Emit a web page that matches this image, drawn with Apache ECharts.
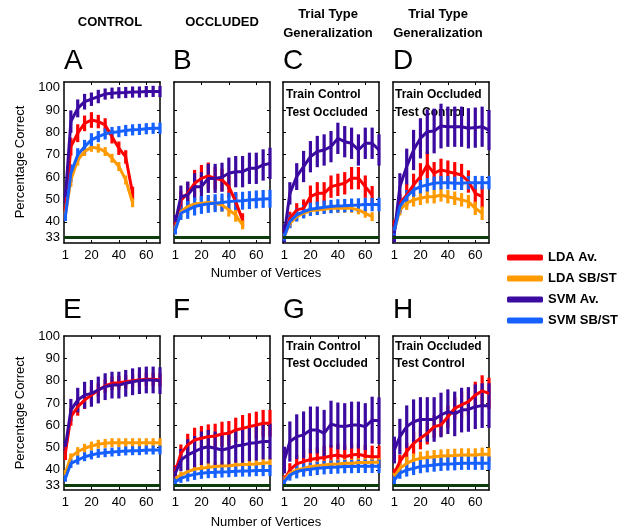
<!DOCTYPE html>
<html>
<head>
<meta charset="utf-8">
<script src="https://cdn.jsdelivr.net/npm/echarts@6/dist/echarts.min.js"></script>
<style>
html, body { margin: 0; padding: 0; background: #fff; }
#box { width: 627px; height: 529px; }
</style>
</head>
<body>
<div id="box"></div>
<script>
var vertices = [1, 5, 10, 15, 20, 25, 30, 35, 40, 45, 50, 55, 60, 65, 70];
var yTicks = [33, 40, 50, 60, 70, 80, 90, 100];
var xTicks = [1, 20, 40, 60];
var seriesNames = ["LDA Av.", "LDA SB/ST", "SVM Av.", "SVM SB/ST"];
var seriesColors = ["#ff0000", "#ff9a00", "#3b0aa0", "#1560ff"];
var chance = 33;

// A - control
var ldaAvA = [44, 73.6, 79.6, 84, 85.5, 84.8, 83.3, 78, 72.9, 69, 52.7];
var ldaSbA = [43, 58.7, 67.6, 71.4, 73.3, 72.9, 71.4, 68.4, 64.7, 58.7, 48.5];
var svmAvA = [51, 84.8, 90.7, 93.7, 94.8, 96, 97.1, 97.5, 97.7, 97.8, 98, 98, 98.2, 98.3, 98.2];
var svmSbA = [42.3, 61.7, 69.9, 73.6, 76.6, 78.1, 79.3, 79.9, 80.3, 80.8, 81.1, 81.3, 81.6, 81.8, 81.8];
var ldaAvErrA = [3, 4, 4, 3.5, 3.5, 3, 3, 3, 3, 3, 3];
var ldaSbErrA = [2, 3, 2.5, 2, 2, 2, 2, 2, 2, 2, 2];
var svmAvErrA = [3, 5, 4, 3.5, 3, 3, 2.5, 2.5, 2.5, 2.5, 2.5, 2.5, 2.5, 2.5, 2.5];
var svmSbErrA = [2, 4, 3, 3, 3, 2.5, 2.5, 2.5, 2.5, 2.5, 2.5, 2.5, 2.5, 2.5, 2.5];

// B - occluded
var ldaAvB = [38.6, 49.7, 52.7, 57.2, 59.4, 60.5, 59.4, 58.7, 55.7, 49, 40.8];
var ldaSbB = [37, 44.5, 46.8, 48, 48.3, 48.6, 48.3, 47.5, 45.3, 43, 38.6];
var svmAvB = [40, 51.2, 52, 55.7, 55.7, 59.4, 59.4, 59.9, 61.7, 62.4, 62.4, 63.9, 63.9, 65.4, 66.1];
var svmSbB = [36.3, 43.8, 45.3, 46.8, 47.5, 48, 48.3, 48.6, 49, 49.3, 49.4, 49.7, 50, 50.2, 50.3];
var ldaAvErrB = [3, 4, 5, 6, 6, 6, 5, 5, 5, 4, 3];
var ldaSbErrB = [2, 2.5, 3, 3, 3, 3, 3, 3, 3, 3, 2];
var svmAvErrB = [3, 5, 6, 6, 6.5, 6.5, 6.5, 6.5, 7, 7, 7, 7, 7, 7, 7];
var svmSbErrB = [2, 3, 4, 4, 4, 4, 4, 4, 4, 4, 4, 4, 4, 4, 4];

// C - train control, test occluded
var ldaAvC = [34.8, 41.5, 45.3, 46, 51.2, 52.7, 52.7, 55.7, 56.5, 57.2, 59.5, 59.5, 55.7, 52];
var ldaSbC = [33.5, 39.3, 42.3, 43.8, 45, 45.3, 45.6, 46, 46, 46, 46, 45.3, 43.8, 42.3];
var svmAvC = [34.8, 52.7, 60.2, 64.7, 69.1, 71.4, 72.1, 73.6, 77.3, 75.8, 75.1, 72.1, 75.1, 75.1, 72.1];
var svmSbC = [33.5, 40.1, 43.1, 44.5, 45.6, 46, 46.5, 46.8, 47.1, 47.2, 47.4, 47.5, 47.7, 47.7, 47.7];
var ldaAvErrC = [2, 3, 3, 4, 5, 5, 5, 5, 5, 5, 5, 5, 5, 4];
var ldaSbErrC = [1.5, 2, 2, 2, 2, 2, 2, 2, 2, 2, 2, 2, 2, 2];
var svmAvErrC = [4, 5, 6, 7, 7, 7, 7, 7, 7, 7, 7, 7, 7, 7, 7];
var svmSbErrC = [2, 3, 3, 3, 3, 3, 3, 3, 3, 3, 3, 3, 3, 3, 3];

// D - train occluded, test control
var ldaAvD = [37.8, 48.3, 52, 56.5, 60.2, 65.4, 61.7, 63.2, 62.4, 61.7, 60.9, 58, 52.7, 51.2];
var ldaSbD = [36, 45.3, 48.3, 49.8, 50.5, 51.2, 51.2, 52, 51.2, 50.5, 49.8, 49, 46, 43.8];
var svmAvD = [34.8, 55.7, 64.7, 72.1, 77.3, 80.3, 80.6, 82.8, 82.5, 82.5, 82.5, 81.8, 82.1, 82.5, 81];
var svmSbD = [36, 46.8, 51.2, 54.2, 55.7, 56.5, 57.2, 57.5, 57.5, 57.2, 57.2, 57.5, 57.5, 57.5, 57.5];
var ldaAvErrD = [3, 4, 5, 5, 6, 6, 5, 5, 5, 5, 5, 5, 5, 5];
var ldaSbErrD = [2, 2.5, 3, 3, 3, 3, 3, 3, 3, 3, 3, 3, 3, 3];
var svmAvErrD = [4, 6, 8, 9, 9, 10, 10, 10, 9, 9, 9, 9, 9, 9, 9];
var svmSbErrD = [2, 3, 3, 3, 3, 3, 3, 3, 3, 3, 3, 3, 3, 3, 3];

// E - control
var ldaAvE = [47.4, 63.8, 68.3, 71.3, 73.5, 75.8, 77.6, 78.8, 79.1, 79.5, 80, 80.3, 80.6, 80.6, 80.3];
var ldaSbE = [38.5, 45.9, 48.2, 49.7, 50.7, 51.5, 51.9, 52.2, 52.2, 52.2, 52.2, 52.2, 52.2, 52.2, 52.2];
var svmAvE = [50.4, 66.8, 71.3, 73.5, 74.3, 75.8, 77.3, 78, 78, 78.8, 79.5, 80, 80.3, 80.3, 80];
var svmSbE = [36.2, 42.9, 44.4, 45.9, 46.7, 47.4, 47.7, 48, 48.2, 48.5, 48.6, 48.6, 48.9, 48.9, 48.9];
var ldaAvErrE = [3, 4, 4, 4, 3.5, 3, 3, 3, 3, 3, 3, 3, 3, 3, 3];
var ldaSbErrE = [1.5, 1.5, 2, 2, 2, 2, 2, 2, 2, 2, 2, 2, 2, 2, 2];
var svmAvErrE = [3, 5, 5.5, 6, 6, 6, 6, 6, 6, 6, 6, 6, 6, 6, 6];
var svmSbErrE = [1.5, 2, 2, 2, 2, 2, 2, 2, 2, 2, 2, 2, 2, 2, 2];

// F - occluded
var ldaAvF = [39.2, 47.4, 51.2, 53.4, 54.2, 54.9, 55.2, 56.1, 56.4, 57.9, 58.6, 59.4, 60.1, 60.9, 60.9];
var ldaSbF = [36.2, 37.7, 39.2, 40.3, 40.7, 41.2, 41.5, 41.8, 41.9, 42.2, 42.4, 42.5, 42.7, 43, 43.3];
var svmAvF = [38.5, 44.4, 46.7, 48.2, 49.7, 50.4, 49.7, 48.9, 49.7, 50.7, 51.2, 51.9, 52.2, 52.7, 52.7];
var svmSbF = [34.7, 36.2, 37.3, 38, 38.5, 38.8, 38.9, 39.1, 39.2, 39.4, 39.5, 39.5, 39.7, 39.7, 39.7];
var ldaAvErrF = [3, 4, 5, 5.5, 5.5, 5.5, 5.5, 5.5, 5.5, 5.5, 6, 6, 6, 6, 6];
var ldaSbErrF = [1, 1.5, 2, 2, 2, 2, 2, 2, 2, 2, 2, 2, 2, 2, 2];
var svmAvErrF = [3, 5, 7, 7, 7.5, 7.5, 7.5, 7.5, 7.5, 7.5, 8, 8, 8, 8, 8];
var svmSbErrF = [1.5, 2, 2.5, 2.5, 2.5, 2.5, 2.5, 2.5, 2.5, 2.5, 2.5, 2.5, 2.5, 2.5, 2.5];

// G - train control, test occluded
var ldaAvG = [35.5, 40, 42.7, 43.7, 44.7, 45.2, 45.6, 46.2, 46.7, 45.9, 46.7, 47, 46.2, 45.9, 45.9];
var ldaSbG = [35.5, 38.5, 40, 40.7, 41.5, 41.9, 42.2, 42.5, 42.7, 43, 43, 43.3, 43.3, 43.4, 43.4];
var svmAvG = [44.4, 52.7, 54.9, 55.7, 57.9, 57.9, 56.4, 60.5, 59.7, 59.4, 60.1, 60.1, 59.4, 62.3, 62];
var svmSbG = [34.7, 37.7, 39.2, 40, 40.3, 40.7, 41, 41.2, 41.3, 41.5, 41.5, 41.6, 41.6, 41.6, 41.6];
var ldaAvErrG = [2, 3, 4, 5, 5, 5, 5, 5, 5, 5, 5, 5, 5, 5, 5];
var ldaSbErrG = [1.5, 2, 2, 2, 2, 2, 2, 2, 2, 2, 2, 2, 2, 2, 2];
var svmAvErrG = [6, 9, 10, 10.5, 10.5, 10.5, 10.5, 10.5, 10.5, 10.5, 10.5, 10.5, 10.5, 10.5, 10.5];
var svmSbErrG = [2, 2.5, 3, 3, 3, 3, 3, 3, 3, 3, 3, 3, 3, 3, 3];

// H - train occluded, test control
var ldaAvH = [38.5, 43.7, 48.2, 51.9, 54.2, 56.4, 59.4, 60.1, 63.8, 67.6, 69.1, 70.6, 73.5, 75.4, 74.3];
var ldaSbH = [37, 40.7, 42.9, 44.4, 45.2, 45.6, 45.9, 46.2, 46.4, 46.5, 46.7, 46.7, 46.7, 47, 47];
var svmAvH = [48.9, 54.9, 59.4, 61.6, 62.6, 62.6, 62.6, 64.6, 66.1, 65.1, 66.8, 67.1, 68.3, 68.8, 68.8];
var svmSbH = [35.5, 38.5, 40, 40.7, 41.5, 41.9, 42.2, 42.5, 42.7, 42.8, 43, 43, 43, 43, 43];
var ldaAvErrH = [2, 3, 4, 5, 5, 5, 5, 5, 5, 5, 6, 6, 6, 7, 7];
var ldaSbErrH = [2, 2.5, 3, 3, 3, 3, 3, 3, 3, 3, 3, 3, 3, 3, 3];
var svmAvErrH = [6, 8, 9.5, 10, 10, 10, 10, 10, 10, 10, 10, 10, 10, 10, 10];
var svmSbErrH = [2, 2.5, 3, 3, 3, 3, 3, 3, 3, 3, 3, 3, 3, 3, 3];

var FONT = "Liberation Sans";

var panels = [
  { left: 64, top: 82, h: 161, min: 30.5, max: 102.5, yLab: true,
    mean: [ldaAvA, ldaSbA, svmAvA, svmSbA], err: [ldaAvErrA, ldaSbErrA, svmAvErrA, svmSbErrA] },
  { left: 174, top: 82, h: 161, min: 30.5, max: 102.5, yLab: false,
    mean: [ldaAvB, ldaSbB, svmAvB, svmSbB], err: [ldaAvErrB, ldaSbErrB, svmAvErrB, svmSbErrB] },
  { left: 283, top: 82, h: 161, min: 30.5, max: 102.5, yLab: false,
    mean: [ldaAvC, ldaSbC, svmAvC, svmSbC], err: [ldaAvErrC, ldaSbErrC, svmAvErrC, svmSbErrC] },
  { left: 393, top: 82, h: 161, min: 30.5, max: 102.5, yLab: false,
    mean: [ldaAvD, ldaSbD, svmAvD, svmSbD], err: [ldaAvErrD, ldaSbErrD, svmAvErrD, svmSbErrD] },
  { left: 64, top: 336, h: 154, min: 31, max: 100, yLab: true,
    mean: [ldaAvE, ldaSbE, svmAvE, svmSbE], err: [ldaAvErrE, ldaSbErrE, svmAvErrE, svmSbErrE] },
  { left: 174, top: 336, h: 154, min: 31, max: 100, yLab: false,
    mean: [ldaAvF, ldaSbF, svmAvF, svmSbF], err: [ldaAvErrF, ldaSbErrF, svmAvErrF, svmSbErrF] },
  { left: 283, top: 336, h: 154, min: 31, max: 100, yLab: false,
    mean: [ldaAvG, ldaSbG, svmAvG, svmSbG], err: [ldaAvErrG, ldaSbErrG, svmAvErrG, svmSbErrG] },
  { left: 393, top: 336, h: 154, min: 31, max: 100, yLab: false,
    mean: [ldaAvH, ldaSbH, svmAvH, svmSbH], err: [ldaAvErrH, ldaSbErrH, svmAvErrH, svmSbErrH] }
];

var grids = [], xAxes = [], yAxes = [], series = [];
var boxLine = { show: true, onZero: false, lineStyle: { color: "#000", width: 1.5 } };

panels.forEach(function (p, i) {
  grids.push({ left: p.left, top: p.top, width: 96, height: p.h });
  // bottom + top x axes
  xAxes.push({
    gridIndex: i, type: "value", min: 0, max: 70, position: "bottom",
    axisLine: boxLine,
    axisTick: { inside: true, length: 3, customValues: [20, 40, 60], lineStyle: { color: "#000" } },
    axisLabel: { customValues: xTicks, color: "#000", fontSize: 13, fontFamily: FONT, margin: 6 },
    splitLine: { show: false }
  });
  xAxes.push({
    gridIndex: i, type: "value", min: 0, max: 70, position: "top",
    axisLine: boxLine,
    axisTick: { inside: true, length: 3, customValues: [20, 40, 60], lineStyle: { color: "#000" } },
    axisLabel: { show: false },
    splitLine: { show: false }
  });
  yAxes.push({
    gridIndex: i, type: "value", min: p.min, max: p.max, position: "left",
    axisLine: boxLine,
    axisTick: { inside: true, length: 3, customValues: [40, 50, 60, 70, 80, 90], lineStyle: { color: "#000" } },
    axisLabel: { show: p.yLab, customValues: yTicks, color: "#000", fontSize: 13, fontFamily: FONT, margin: 4 },
    splitLine: { show: false }
  });
  yAxes.push({
    gridIndex: i, type: "value", min: p.min, max: p.max, position: "right",
    axisLine: boxLine,
    axisTick: { inside: true, length: 3, customValues: [40, 50, 60, 70, 80, 90], lineStyle: { color: "#000" } },
    axisLabel: { show: false },
    splitLine: { show: false }
  });

  p.mean.forEach(function (vals, k) {
    var color = seriesColors[k];
    var pts = vals.map(function (v, j) { return [vertices[j], v]; });
    var bars = vals.map(function (v, j) { return [vertices[j], v, p.err[k][j]]; });
    var line = {
      name: seriesNames[k], type: "line", xAxisIndex: 2 * i, yAxisIndex: 2 * i,
      data: pts, showSymbol: false, symbol: "none",
      lineStyle: { color: color, width: 3 }, itemStyle: { color: color },
      emphasis: { disabled: true }
    };
    if (k === 0) {
      line.markLine = {
        silent: true, symbol: "none", label: { show: false },
        lineStyle: { color: "#0d3d0d", width: 3, type: "solid" },
        data: [{ yAxis: chance }]
      };
    }
    series.push(line);
    series.push({
      name: seriesNames[k], type: "custom", xAxisIndex: 2 * i, yAxisIndex: 2 * i,
      data: bars, encode: { x: 0, y: 1 }, itemStyle: { color: color },
      renderItem: function (params, api) {
        var x = api.value(0), y = api.value(1), e = api.value(2);
        var a = api.coord([x, y - e]), b = api.coord([x, y + e]);
        return { type: "line", shape: { x1: a[0], y1: a[1], x2: b[0], y2: b[1] },
                 style: { stroke: color, lineWidth: 3.2 } };
      }
    });
  });
});

function txt(x, y, text, size, bold, align, extra) {
  var el = {
    type: "text", x: x, y: y, z: 0,
    style: { text: text, fontSize: size, fontWeight: bold ? "bold" : "normal",
             fontFamily: FONT, fill: "#000", align: align || "center", verticalAlign: "middle" }
  };
  if (extra) { for (var key in extra) el[key] = extra[key]; }
  return el;
}

var graphics = [
  txt(110, 22, "CONTROL", 13, true),
  txt(222, 22, "OCCLUDED", 13, true),
  txt(328, 14, "Trial Type", 13, true),
  txt(328, 33, "Generalization", 13, true),
  txt(438, 14, "Trial Type", 13, true),
  txt(438, 33, "Generalization", 13, true),
  txt(64, 61, "A", 28, false, "left"),
  txt(173, 61, "B", 28, false, "left"),
  txt(283, 61, "C", 28, false, "left"),
  txt(393, 61, "D", 28, false, "left"),
  txt(63, 310, "E", 28, false, "left"),
  txt(173, 310, "F", 28, false, "left"),
  txt(283, 310, "G", 28, false, "left"),
  txt(393, 310, "H", 28, false, "left"),
  txt(286, 95, "Train Control", 12, true, "left"),
  txt(286, 113, "Test Occluded", 12, true, "left"),
  txt(395, 95, "Train Occluded", 12, true, "left"),
  txt(395, 113, "Test Control", 12, true, "left"),
  txt(286, 347, "Train Control", 12, true, "left"),
  txt(286, 364, "Test Occluded", 12, true, "left"),
  txt(395, 347, "Train Occluded", 12, true, "left"),
  txt(395, 364, "Test Control", 12, true, "left"),
  txt(20, 162, "Percentage Correct", 13, false, "center", { rotation: Math.PI / 2 }),
  txt(20, 413, "Percentage Correct", 13, false, "center", { rotation: Math.PI / 2 }),
  txt(266, 273, "Number of Vertices", 13, false),
  txt(266, 522, "Number of Vertices", 13, false)
];

var myChart = echarts.init(document.getElementById("box"));
var option = {
  animation: false,
  backgroundColor: "#fff",
  legend: {
    data: seriesNames, orient: "vertical", left: 502, top: 246,
    itemWidth: 36, itemHeight: 6, itemGap: 8, icon: "roundRect", selectedMode: false,
    textStyle: { color: "#000", fontSize: 13, fontWeight: "bold", fontFamily: FONT }
  },
  grid: grids,
  xAxis: xAxes,
  yAxis: yAxes,
  graphic: graphics,
  series: series
};
myChart.setOption(option);
</script>
</body>
</html>
